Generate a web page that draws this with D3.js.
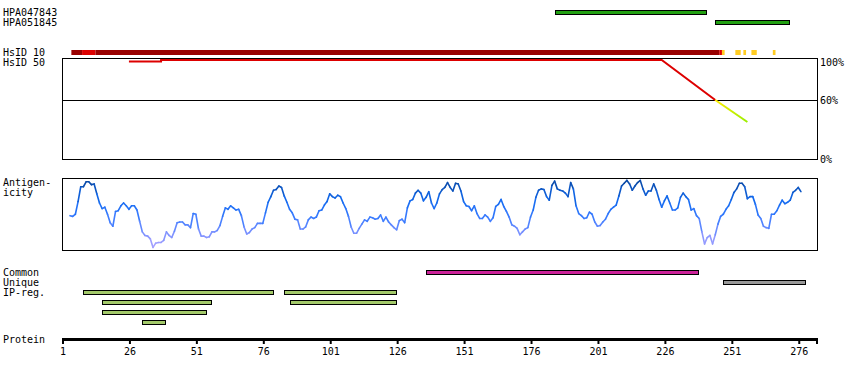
<!DOCTYPE html>
<html>
<head>
<meta charset="utf-8">
<script src="https://cdn.jsdelivr.net/npm/d3@7"></script>
<style>
  body { margin: 0; background: #fff; }
  text { font-family: "DejaVu Sans Mono", monospace; font-size: 10px; fill: #000; }
</style>
</head>
<body>
<div id="chart"></div>
<script>
// protein length and axis ticks
const proteinLength = 283;
const tickValues = [1, 26, 51, 76, 101, 126, 151, 176, 201, 226, 251, 276];

// antibodies (residue ranges)
const antibodyNames = ["HPA047843", "HPA051845"];
const antibodyRanges = [[185, 241], [245, 272]];

// HsID 10 bar: [from, to, level]
const hsid10Segments = [
    [5, 8, "mid"], [9, 13, "high"], [14, 246, "mid"], [247, 247, "high"],
    [248, 248, "low"], [253, 254, "low"], [256, 256, "low"], [259, 260, "low"], [267, 267, "low"]
];

// HsID 50 identity line: [residue, percent]
const hsid50Points = [[26, 98.5], [38, 98.5], [38, 100], [225, 100], [245, 60], [257, 38]];

// antigenicity score per residue, starting at residue 4
const antigenStart = 4;
const antigenScores = [
    48, 47, 50, 68, 89, 89, 96, 96, 92, 93,
    79, 66, 58, 60, 50, 38, 33, 54, 55, 62,
    66, 62, 57, 62, 62, 56, 40, 25, 20, 19,
    15, 3, 9, 10, 10, 13, 25, 20, 17, 26,
    38, 39, 39, 35, 35, 31, 51, 50, 29, 19,
    19, 17, 18, 25, 25, 27, 34, 47, 59, 57,
    62, 59, 56, 57, 48, 32, 22, 24, 29, 31,
    37, 37, 37, 52, 67, 75, 84, 85, 90, 88,
    76, 67, 57, 52, 43, 42, 29, 29, 32, 42,
    46, 44, 46, 55, 56, 63, 68, 79, 75, 73,
    77, 75, 66, 58, 47, 32, 23, 23, 30, 36,
    42, 40, 46, 45, 43, 44, 49, 40, 46, 39,
    35, 31, 28, 41, 43, 38, 59, 69, 71, 80,
    84, 80, 69, 74, 82, 66, 58, 66, 79, 85,
    88, 95, 88, 83, 94, 93, 83, 68, 62, 61,
    55, 62, 51, 44, 44, 49, 46, 40, 45, 61,
    64, 71, 61, 54, 46, 35, 33, 30, 21, 25,
    29, 31, 46, 56, 74, 84, 86, 85, 75, 70,
    91, 97, 86, 84, 83, 80, 75, 95, 86, 62,
    51, 48, 44, 45, 53, 50, 39, 33, 34, 39,
    43, 51, 57, 60, 63, 76, 90, 94, 98, 93,
    84, 90, 95, 98, 86, 77, 83, 83, 93, 84,
    71, 60, 69, 76, 66, 56, 56, 59, 74, 80,
    75, 71, 56, 58, 48, 44, 25, 8, 17, 20,
    8, 21, 36, 47, 50, 57, 62, 71, 81, 86,
    94, 94, 89, 72, 75, 75, 64, 49, 44, 33,
    31, 30, 50, 50, 55, 63, 70, 65, 67, 70,
    81, 84, 88, 82
];

// bottom feature tracks
const commonRanges = [[137, 238]];
const uniqueRanges = [[248, 278]];
const ipRegRows = [
    [[9, 79], [84, 125]],
    [[16, 56], [86, 125]],
    [[16, 54]],
    [[31, 39]]
];

const width = 850, height = 380;
const svg = d3.select("#chart").append("svg")
    .attr("width", width)
    .attr("height", height);

const x = d3.scaleLinear().domain([1, proteinLength]).range([62, 817]);
const left = x(1), right = x(proteinLength);

function label(txt, y, xp) {
    svg.append("text").attr("x", xp || 3).attr("y", y).text(txt);
}

function bars(ranges, y, fill) {
    svg.append("g").selectAll("rect")
        .data(ranges)
        .enter()
        .append("rect")
        .attr("x", d => Math.round(x(d[0])) + 0.5)
        .attr("y", y + 0.5)
        .attr("width", d => Math.round(x(d[1] + 1)) - Math.round(x(d[0])) - 1)
        .attr("height", 4)
        .attr("fill", fill)
        .attr("stroke", "#000")
        .attr("stroke-width", 1);
}

// antibodies
label(antibodyNames[0], 16);
label(antibodyNames[1], 26);
bars([antibodyRanges[0]], 10, "#22a012");
bars([antibodyRanges[1]], 20, "#22a012");

// HsID 10
label("HsID 10", 56);
label("HsID 50", 66);
const hsidColor = { mid: "#990000", high: "#dd0000", low: "#ffcc22" };
svg.append("g").selectAll("rect")
    .data(hsid10Segments)
    .enter()
    .append("rect")
    .attr("x", d => x(d[0] - 0.5))
    .attr("y", 50)
    .attr("width", d => x(d[1] + 0.5) - x(d[0] - 0.5))
    .attr("height", 5)
    .attr("fill", d => hsidColor[d[2]]);

// HsID 50 box
const yId = d3.scaleLinear().domain([0, 100]).range([160, 60]);
svg.append("rect")
    .attr("x", left + 0.5).attr("y", 58.5)
    .attr("width", right - left).attr("height", 101)
    .attr("fill", "none").attr("stroke", "#000");
svg.append("line")
    .attr("x1", left).attr("x2", right)
    .attr("y1", Math.round(yId(60)) + 0.5).attr("y2", Math.round(yId(60)) + 0.5)
    .attr("stroke", "#000");
label("100%", 66, 820);
label("60%", 104, 820);
label("0%", 163, 820);

const lowColor = d3.scaleLinear().domain([38, 60]).range(["#99ee00", "#ffee00"]);
const grad = svg.append("defs").append("linearGradient")
    .attr("id", "lowgrad")
    .attr("gradientUnits", "userSpaceOnUse")
    .attr("x1", x(245)).attr("x2", x(257)).attr("y1", 0).attr("y2", 0);
grad.append("stop").attr("offset", "0%").attr("stop-color", lowColor(60));
grad.append("stop").attr("offset", "100%").attr("stop-color", lowColor(38));

const idLine = d3.line().x(d => x(d[0])).y(d => yId(d[1]));
const highPart = hsid50Points.filter(d => d[1] >= 60);
const lowPart = hsid50Points.filter(d => d[1] <= 60);
svg.append("path").attr("d", idLine(highPart))
    .attr("fill", "none").attr("stroke", "#dd0000").attr("stroke-width", 2);
svg.append("path").attr("d", idLine(lowPart))
    .attr("fill", "none").attr("stroke", "url(#lowgrad)").attr("stroke-width", 2);

// Antigenicity
label("Antigen-", 186);
label("icity", 196);
svg.append("rect")
    .attr("x", left + 0.5).attr("y", 178.5)
    .attr("width", right - left).attr("height", 72)
    .attr("fill", "none").attr("stroke", "#000");

const yAg = d3.scaleLinear().domain([0, 100]).range([249.5, 179]);
const agColor = d3.scaleLinear()
    .domain([0, 25, 45, 70, 95])
    .range(["#b4a6ff", "#7890ff", "#3b7cff", "#126af0", "#0a4aa8"]);
const agPoints = antigenScores.map((v, i) => [antigenStart + i, v]);
const agSegs = d3.pairs(agPoints);
svg.append("g").selectAll("line")
    .data(agSegs)
    .enter()
    .append("line")
    .attr("x1", d => x(d[0][0]))
    .attr("y1", d => yAg(d[0][1]))
    .attr("x2", d => x(d[1][0]))
    .attr("y2", d => yAg(d[1][1]))
    .attr("stroke", d => agColor((d[0][1] + d[1][1]) / 2))
    .attr("stroke-width", 1.6)
    .attr("stroke-linecap", "round");

// feature tracks
label("Common", 276);
label("Unique", 286);
label("IP-reg.", 296);
bars(commonRanges, 270, "#cc2299");
bars(uniqueRanges, 280, "#999999");
ipRegRows.forEach((row, i) => bars(row, 290 + i * 10, "#a3c96a"));

// protein axis
label("Protein", 343);
svg.append("rect")
    .attr("x", left).attr("y", 338)
    .attr("width", right - left + 1).attr("height", 3)
    .attr("fill", "#000");
const axis = svg.append("g")
    .attr("transform", "translate(0.5,340)")
    .call(d3.axisBottom(x).tickValues(tickValues).tickSize(4).tickSizeOuter(0));
axis.select(".domain").remove();
axis.selectAll("line").attr("stroke", "#000").attr("stroke-width", 2);
axis.selectAll("text")
    .attr("dy", null)
    .attr("y", 15)
    .style("font-family", "DejaVu Sans Mono, monospace")
    .style("font-size", "10px");
svg.append("line")
    .attr("x1", right).attr("x2", right)
    .attr("y1", 338).attr("y2", 344)
    .attr("stroke", "#000").attr("stroke-width", 2);
</script>
</body>
</html>
